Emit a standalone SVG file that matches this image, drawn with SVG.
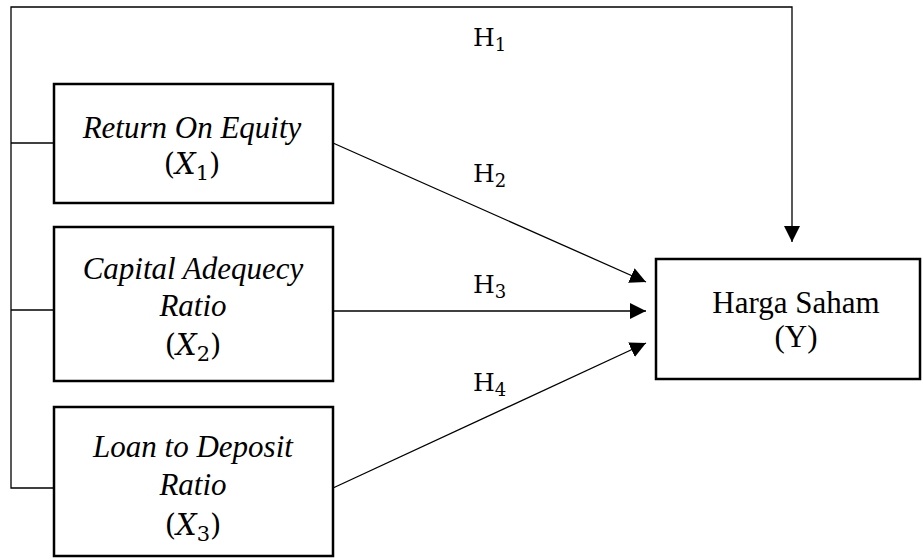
<svg xmlns="http://www.w3.org/2000/svg" width="923" height="559" viewBox="0 0 923 559">
  <style>
    .box { fill: #ffffff; stroke: #000000; stroke-width: 2.5; }
    .line { fill: none; stroke: #000000; stroke-width: 1.3; }
    .arr { marker-end: url(#ah); }
    .lbl { font-family: "Liberation Serif", "Times New Roman", serif; font-size: 31px; fill: #000; text-anchor: middle; }
    .it { font-style: italic; }
    .math { font-family: "DejaVu Serif", "Liberation Serif", serif; font-size: 29px; fill: #000; text-anchor: middle; }
    .msub { font-size: 21px; font-style: normal; }
    .h { font-family: "DejaVu Serif", "Liberation Serif", serif; font-size: 25px; fill: #000; }
    .hsub { font-size: 18px; }
  </style>
  <defs>
    <marker id="ah" markerUnits="userSpaceOnUse" markerWidth="18" markerHeight="16" refX="16" refY="8" orient="auto">
      <path d="M0 0 L16 8 L0 16 Z" fill="#000"/>
    </marker>
  </defs>
  <rect width="923" height="559" fill="#ffffff"/>

  <g id="connectors">
    <path class="line arr" d="M54 488 H11 V7 H792 V242"/>
    <path class="line" d="M11 143 H54"/>
    <path class="line" d="M11 310 H54"/>
    <line class="line arr" x1="333" y1="143" x2="646" y2="282"/>
    <line class="line arr" x1="333" y1="311" x2="646" y2="311"/>
    <line class="line arr" x1="333" y1="488" x2="646" y2="343"/>
    <text class="h" x="473" y="46">H<tspan class="hsub" dy="5">1</tspan></text>
    <text class="h" x="473" y="182">H<tspan class="hsub" dy="5">2</tspan></text>
    <text class="h" x="473" y="293">H<tspan class="hsub" dy="5">3</tspan></text>
    <text class="h" x="473" y="391">H<tspan class="hsub" dy="5">4</tspan></text>
  </g>

  <g id="roe">
    <rect class="box" x="54" y="84" width="279" height="119"/>
    <text class="lbl it" x="192" y="138">Return On Equity</text>
    <text class="math" x="192" y="174">(<tspan font-style="italic">X</tspan><tspan class="msub" dy="6">1</tspan><tspan dy="-6">)</tspan></text>
  </g>

  <g id="car">
    <rect class="box" x="54" y="227" width="279" height="154"/>
    <text class="lbl it" x="193" y="279">Capital Adequecy</text>
    <text class="lbl it" x="193" y="316">Ratio</text>
    <text class="math" x="193" y="355">(<tspan font-style="italic">X</tspan><tspan class="msub" dy="6">2</tspan><tspan dy="-6">)</tspan></text>
  </g>

  <g id="ldr">
    <rect class="box" x="54" y="407" width="279" height="149"/>
    <text class="lbl it" x="193" y="457">Loan to Deposit</text>
    <text class="lbl it" x="193" y="495">Ratio</text>
    <text class="math" x="193" y="535">(<tspan font-style="italic">X</tspan><tspan class="msub" dy="6">3</tspan><tspan dy="-6">)</tspan></text>
  </g>

  <g id="harga">
    <rect class="box" x="656" y="259" width="264" height="120"/>
    <text class="lbl" x="796" y="313">Harga Saham</text>
    <text class="lbl" x="796" y="347">(Y)</text>
  </g>
</svg>
